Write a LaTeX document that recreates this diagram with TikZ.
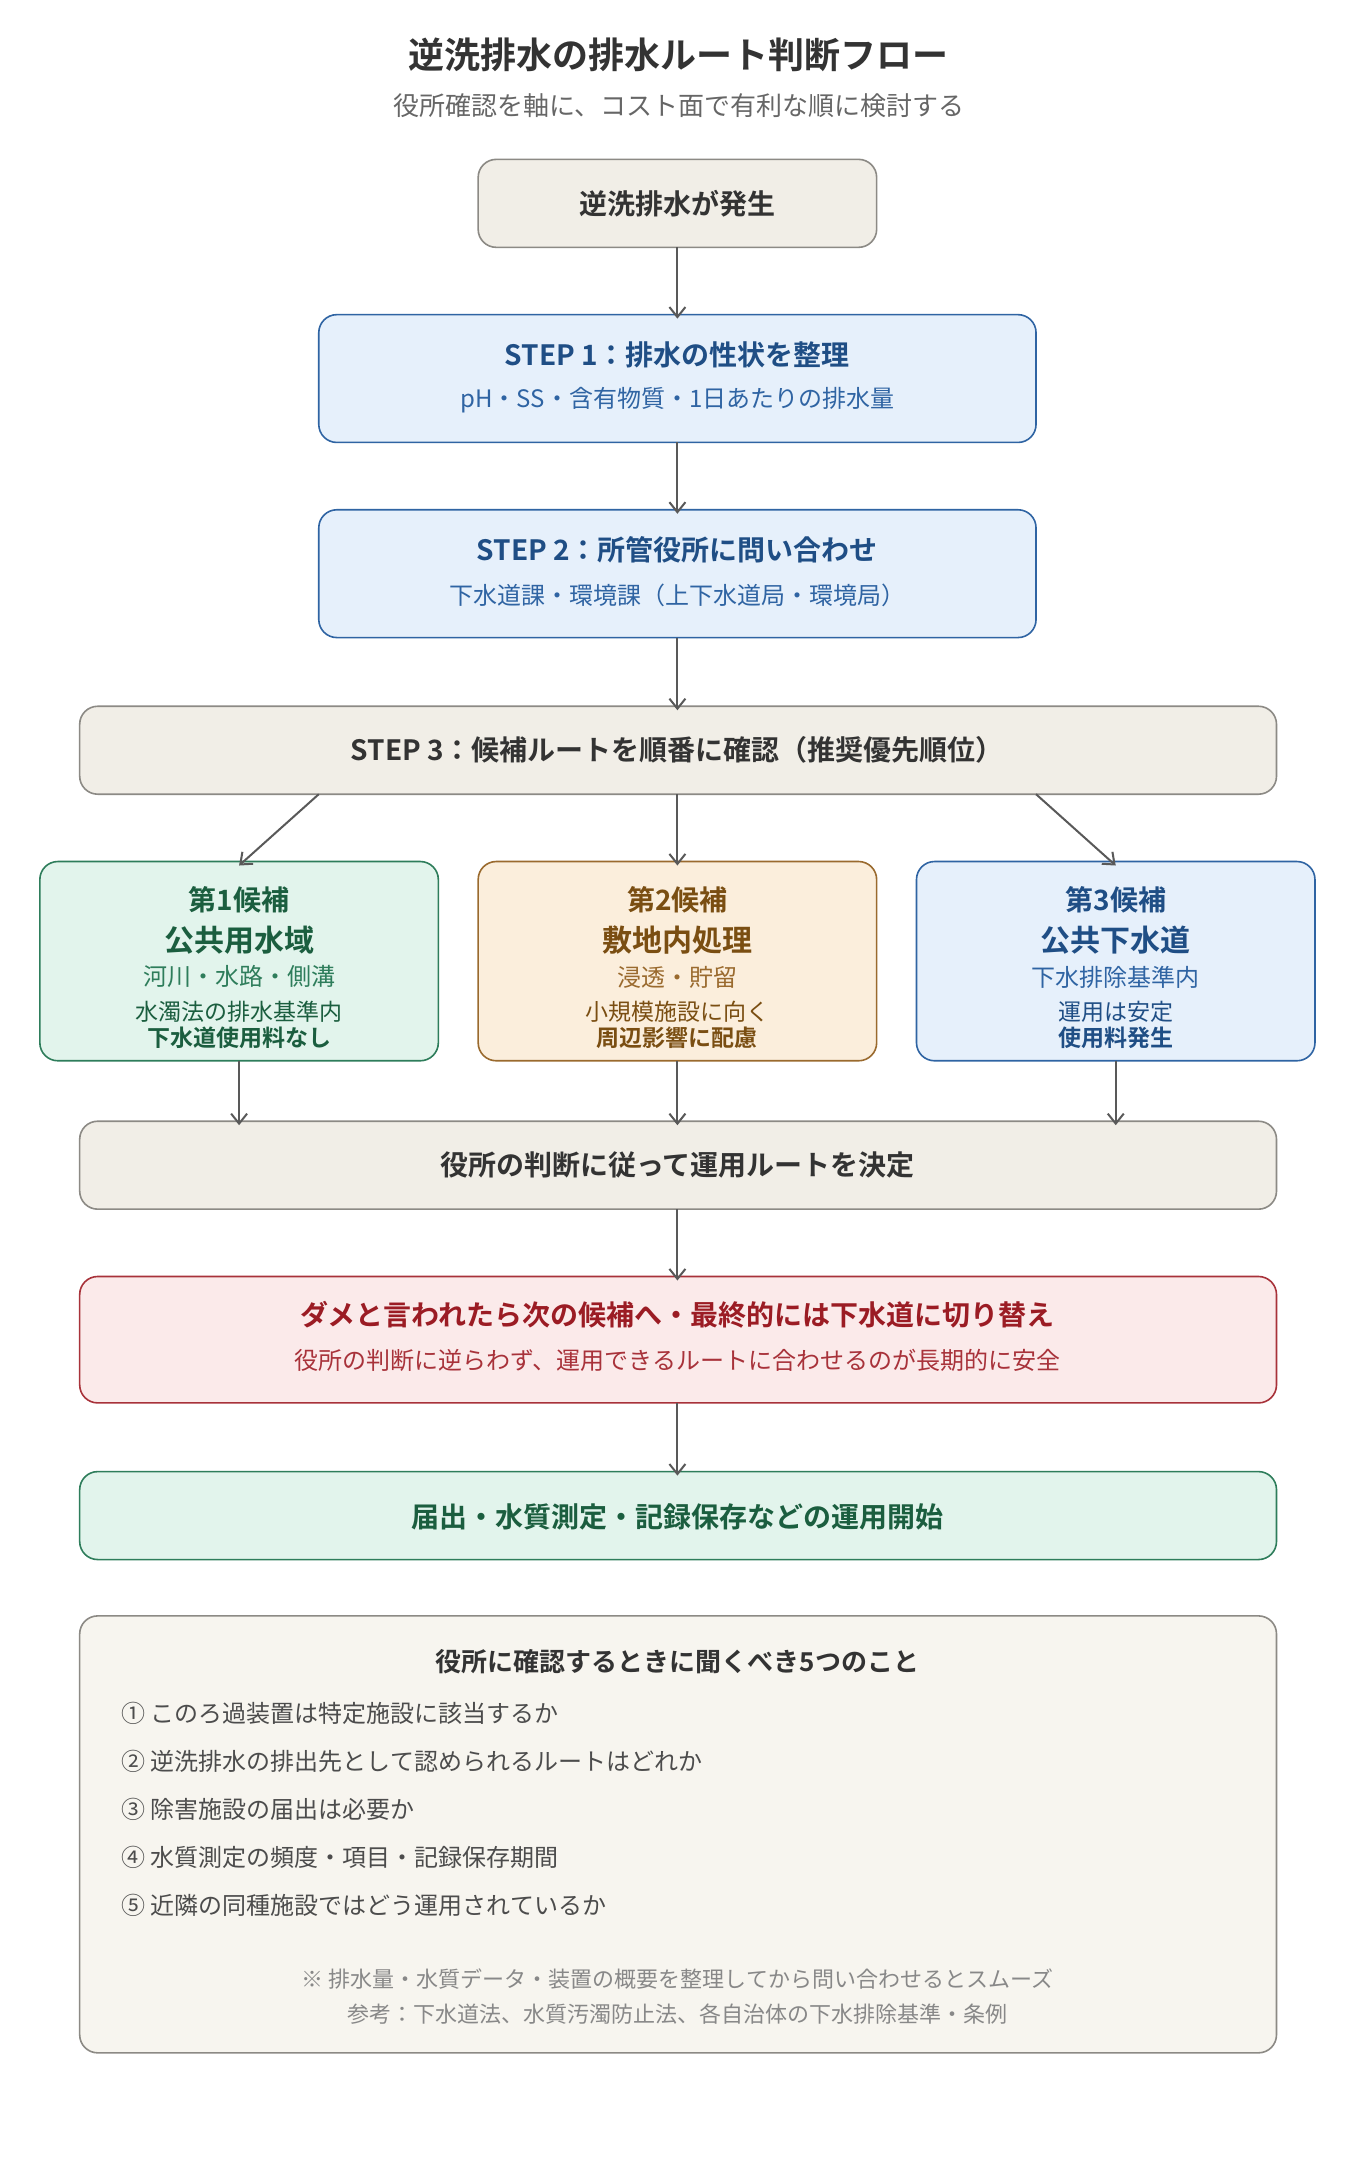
\documentclass[tikz,border=0pt]{standalone}
\usepackage{fontspec}
\setmainfont{Noto Sans CJK JP}
\newfontfamily\jpb{Noto Sans CJK JP Bold}
\usetikzlibrary{arrows.meta}
\definecolor{neutF}{HTML}{F1EEE7}\definecolor{neutD}{HTML}{8C8A85}
\definecolor{bluF}{HTML}{E6F0FB}\definecolor{bluD}{HTML}{2F64A3}\definecolor{bluT}{HTML}{1F4E85}
\definecolor{grnF}{HTML}{E2F4EC}\definecolor{grnD}{HTML}{2E7D5B}\definecolor{grnT}{HTML}{1B5E3F}
\definecolor{orF}{HTML}{FBEEDC}\definecolor{orD}{HTML}{9A6A2E}\definecolor{orT}{HTML}{7A4E12}
\definecolor{redF}{HTML}{FBEAEA}\definecolor{redD}{HTML}{A8323A}\definecolor{redT}{HTML}{9B1C24}
\definecolor{noteF}{HTML}{F7F5EF}\definecolor{txt}{HTML}{333333}\definecolor{gr}{HTML}{888888}
\begin{document}
\begin{tikzpicture}[x=0.687pt,y=-0.687pt,
 box/.style={draw=#1D, fill=#1F, rounded corners=9pt, line width=0.8pt},
 arr/.style={-{Straight Barb[length=5pt,width=8pt]}, draw=black!65, line width=1pt},
 tb/.style={font=\jpb\fontsize{14}{16}\selectfont, inner sep=0},
 ts/.style={font=\fontsize{12}{14}\selectfont, inner sep=0}]
\useasboundingbox[fill=white] (0,0) rectangle (990,1572);
\node[font=\jpb\fontsize{18}{21}\selectfont, text=txt] (title) at (494,40) {逆洗排水の排水ルート判断フロー};
\node[font=\fontsize{13}{15}\selectfont, text=black!60] (subt) at (494,77) {役所確認を軸に、コスト面で有利な順に検討する};
% start
\draw[box=neut] (348,116) rectangle (638,180);
\node[tb,text=txt] (s) at (493,148) {逆洗排水が発生};
\coordinate (sB) at (493,180);
% step1
\draw[box=blu] (232,229) rectangle (754,322);
\node[tb,text=bluT] (s1) at (493,258) {STEP 1：排水の性状を整理};
\node[ts,text=bluD] (s1b) at (493,291) {pH・SS・含有物質・1日あたりの排水量};
\coordinate (s1T) at (493,229);\coordinate (s1B) at (493,322);
% step2
\draw[box=blu] (232,371) rectangle (754,464);
\node[tb,text=bluT] (s2) at (493,400) {STEP 2：所管役所に問い合わせ};
\node[ts,text=bluD] (s2b) at (493,433) {下水道課・環境課（上下水道局・環境局）};
\coordinate (s2T) at (493,371);\coordinate (s2B) at (493,464);
% step3
\draw[box=neut] (58,514) rectangle (929,578);
\node[tb,text=txt] (s3) at (493,546) {STEP 3：候補ルートを順番に確認（推奨優先順位）};
\coordinate (s3T) at (493,514);
\coordinate (s3a) at (232,578);\coordinate (s3b) at (493,578);\coordinate (s3c) at (754,578);
% candidates
\draw[box=grn] (29,627) rectangle (319,772);
\node[tb,text=grnT] (c1a) at (174,655) {第1候補};
\node[tb,text=grnT,font=\jpb\fontsize{15}{17}\selectfont] (c1b) at (174,684) {公共用水域};
\node[ts,text=grnD] (c1c) at (174,711) {河川・水路・側溝};
\node[ts,text=grnT,align=center,font=\fontsize{11.5}{13}\selectfont] (c1d) at (174,746) {水濁法の排水基準内\\{\jpb 下水道使用料なし}};
\draw[box=or] (348,627) rectangle (638,772);
\node[tb,text=orT] (c2a) at (493,655) {第2候補};
\node[tb,text=orT,font=\jpb\fontsize{15}{17}\selectfont] (c2b) at (493,684) {敷地内処理};
\node[ts,text=orD] (c2c) at (493,711) {浸透・貯留};
\node[ts,text=orT,align=center,font=\fontsize{11.5}{13}\selectfont] (c2d) at (493,746) {小規模施設に向く\\{\jpb 周辺影響に配慮}};
\draw[box=blu] (667,627) rectangle (957,772);
\node[tb,text=bluT] (c3a) at (812,655) {第3候補};
\node[tb,text=bluT,font=\jpb\fontsize{15}{17}\selectfont] (c3b) at (812,684) {公共下水道};
\node[ts,text=bluD] (c3c) at (812,711) {下水排除基準内};
\node[ts,text=bluT,align=center,font=\fontsize{11.5}{13}\selectfont] (c3d) at (812,746) {運用は安定\\{\jpb 使用料発生}};
\coordinate (c1T) at (174,627);\coordinate (c2T) at (493,627);\coordinate (c3T) at (812,627);
\coordinate (c1B) at (174,772);\coordinate (c2B) at (493,772);\coordinate (c3B) at (812,772);
% decide
\draw[box=neut] (58,816) rectangle (929,880);
\node[tb,text=txt] (d) at (493,848) {役所の判断に従って運用ルートを決定};
\coordinate (d1) at (174,816);\coordinate (d2) at (493,816);\coordinate (d3) at (812,816);\coordinate (dB) at (493,880);
% red
\draw[box=red] (58,929) rectangle (929,1021);
\node[tb,text=redT] (r) at (493,957) {ダメと言われたら次の候補へ・最終的には下水道に切り替え};
\node[ts,text=redD] (rb) at (493,990) {役所の判断に逆らわず、運用できるルートに合わせるのが長期的に安全};
\coordinate (rT) at (493,929);\coordinate (rB) at (493,1021);
% green
\draw[box=grn] (58,1071) rectangle (929,1135);
\node[tb,text=grnT] (g) at (493,1104) {届出・水質測定・記録保存などの運用開始};
\coordinate (gT) at (493,1071);
% arrows
\draw[arr] (sB) -- ([yshift=-2]s1T);
\draw[arr] (s1B) -- ([yshift=-2]s2T);
\draw[arr] (s2B) -- ([yshift=-2]s3T);
\draw[arr] (s3a) -- ([yshift=-2]c1T);
\draw[arr] (s3b) -- ([yshift=-2]c2T);
\draw[arr] (s3c) -- ([yshift=-2]c3T);
\draw[arr] (c1B) -- ([yshift=-2]d1);
\draw[arr] (c2B) -- ([yshift=-2]d2);
\draw[arr] (c3B) -- ([yshift=-2]d3);
\draw[arr] (dB) -- ([yshift=-2]rT);
\draw[arr] (rB) -- ([yshift=-2]gT);
% notes
\draw[draw=neutD, fill=noteF, rounded corners=9pt, line width=0.8pt] (58,1176) rectangle (929,1494);
\node[tb,text=txt,font=\jpb\fontsize{13}{15}\selectfont] (nh) at (493,1209) {役所に確認するときに聞くべき5つのこと};
\begin{scope}[every node/.style={anchor=west, inner sep=0, text=black!70, font=\fontsize{12}{14}\selectfont}]
\node (n1) at (88,1247) {① このろ過装置は特定施設に該当するか};
\node (n2) at (88,1282) {② 逆洗排水の排出先として認められるルートはどれか};
\node (n3) at (88,1317) {③ 除害施設の届出は必要か};
\node (n4) at (88,1352) {④ 水質測定の頻度・項目・記録保存期間};
\node (n5) at (88,1387) {⑤ 近隣の同種施設ではどう運用されているか};
\end{scope}
\node[ts,text=gr,font=\fontsize{11}{13}\selectfont] (f1) at (493,1440) {※ 排水量・水質データ・装置の概要を整理してから問い合わせるとスムーズ};
\node[ts,text=gr,font=\fontsize{11}{13}\selectfont] (f2) at (493,1466) {参考：下水道法、水質汚濁防止法、各自治体の下水排除基準・条例};
\end{tikzpicture}
\end{document}
